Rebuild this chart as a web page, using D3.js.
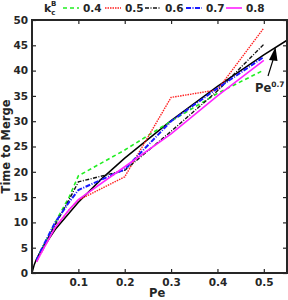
<!DOCTYPE html>
<html>
<head>
<meta charset="utf-8">
<script src="https://cdn.jsdelivr.net/npm/d3@7"></script>
<style>
  body { margin: 0; background: #fff; }
  text { font-family: "DejaVu Sans", sans-serif; font-weight: bold; fill: #262626; }
</style>
</head>
<body>
<div id="chart"></div>
<script>
// Data
const pe = [0.01, 0.02, 0.05, 0.08, 0.1, 0.2, 0.3, 0.4, 0.5]
const kcLabels = ['0.4', '0.5', '0.6', '0.7', '0.8']
const t04 = [2.5, 4.5, 10, 15, 19.2, 24.3, 30, 35.5, 40.1]
const t05 = [2.3, 4, 9, 12.5, 14.4, 19, 34.7, 36.2, 48.4]
const t06 = [2.5, 4.5, 9.5, 14.5, 18, 20.3, 28, 36, 45.2]
const t07 = [2.5, 4.6, 10, 14, 16.4, 20.5, 30, 36.5, 42.7]
const t08 = [2.2, 4, 9, 12.5, 14.5, 21, 27.5, 35, 42]
const fitPe = [0, 0.005, 0.01, 0.02, 0.05, 0.1, 0.15, 0.2, 0.3, 0.4, 0.5, 0.55]
const fitT = [0, 1.7, 2.8, 4.5, 8.6, 14, 18.6, 22.7, 30.1, 36.9, 43.1, 46]
const xTicks = [0.1, 0.2, 0.3, 0.4, 0.5]
const yTicks = [0, 5, 10, 15, 20, 25, 30, 35, 40, 45, 50]

const seriesList = [t04, t05, t06, t07, t08]
const styles = [
  { color: '#22ee22', dash: '4,3', width: 1.6 },
  { color: '#ff2020', dash: '1.5,1', width: 1.4 },
  { color: '#111111', dash: '4,1.5,1,1.5', width: 1.4 },
  { color: '#1a1aff', dash: '5,1.5,1,1.5', width: 2 },
  { color: '#ff22ff', dash: null, width: 1.6 }
]

const width = 288, height = 300
const margin = { top: 20, right: 1, bottom: 27, left: 32 }
const innerW = width - margin.left - margin.right
const innerH = height - margin.top - margin.bottom

const svg = d3.select('#chart')
  .append('svg')
    .attr('width', width)
    .attr('height', height)

const g = svg.append('g')
  .attr('transform', 'translate(' + margin.left + ',' + margin.top + ')')

const x = d3.scaleLinear().domain([0, 0.55]).range([0, innerW])
const y = d3.scaleLinear().domain([0, 50]).range([innerH, 0])

// Clip for lines
svg.append('defs').append('clipPath').attr('id', 'clip')
  .append('rect').attr('width', innerW).attr('height', innerH)

const line = d3.line()
  .x(d => x(d[0]))
  .y(d => y(d[1]))

const lines = g.append('g').attr('clip-path', 'url(#clip)')

// Fit line Pe^0.7
lines.append('path')
  .attr('d', line(fitPe.map((p, i) => [p, fitT[i]])))
  .attr('fill', 'none')
  .attr('stroke', '#000')
  .attr('stroke-width', 1.5)

seriesList.forEach((vals, i) => {
  lines.append('path')
    .attr('d', line(pe.map((p, j) => [p, vals[j]])))
    .attr('fill', 'none')
    .attr('stroke', styles[i].color)
    .attr('stroke-width', styles[i].width)
    .attr('stroke-dasharray', styles[i].dash)
})

// Axes
const xAxis = g.append('g')
  .attr('transform', 'translate(0,' + innerH + ')')
  .call(d3.axisBottom(x).tickValues(xTicks).tickSize(-4).tickPadding(6).tickFormat(d3.format('.1f')))
const xTop = g.append('g')
  .call(d3.axisTop(x).tickValues(xTicks).tickSize(-4).tickFormat(''))
const yAxis = g.append('g')
  .call(d3.axisLeft(y).tickValues(yTicks).tickSize(-4).tickPadding(4))
const yRight = g.append('g')
  .attr('transform', 'translate(' + innerW + ',0)')
  .call(d3.axisRight(y).tickValues(yTicks).tickSize(-4).tickFormat(''))

;[xAxis, xTop, yAxis, yRight].forEach(a => {
  a.select('.domain').remove()
  a.selectAll('line').attr('stroke', '#262626').attr('stroke-width', 1.2)
  a.selectAll('text').attr('font-size', 10.5).attr('fill', '#262626')
})

g.append('rect')
  .attr('width', innerW)
  .attr('height', innerH)
  .attr('fill', 'none')
  .attr('stroke', '#262626')
  .attr('stroke-width', 2)

// Axis labels
svg.append('text')
  .attr('x', margin.left + x(0.27))
  .attr('y', 297)
  .attr('text-anchor', 'middle')
  .attr('font-size', 11.5)
  .text('Pe')

svg.append('text')
  .attr('transform', 'translate(10,' + (margin.top + innerH / 2) + ') rotate(-90)')
  .attr('text-anchor', 'middle')
  .attr('font-size', 11.5)
  .text('Time to Merge')

// Annotation
const ann = svg.append('text')
  .attr('x', 255)
  .attr('y', 92)
  .attr('font-size', 11.5)
ann.append('tspan').text('Pe')
ann.append('tspan').attr('font-size', 7.5).attr('dy', -5).text('0.7')

svg.append('line')
  .attr('x1', 268).attr('y1', 76)
  .attr('x2', 273).attr('y2', 60)
  .attr('stroke', '#000').attr('stroke-width', 1.2)
svg.append('path')
  .attr('d', 'M275.5,47 L269,60 L277.5,61 Z')
  .attr('fill', '#000')

// Legend
const legend = svg.append('g').attr('transform', 'translate(0,8)')
const kc = legend.append('text').attr('x', 44).attr('y', 4).attr('font-size', 11)
kc.append('tspan').text('k')
kc.append('tspan').attr('font-size', 7).attr('dy', 3).text('c')
kc.append('tspan').attr('font-size', 7).attr('dx', -4.5).attr('dy', -9).text('B')

const legX = [63, 105, 145, 186, 226]
kcLabels.forEach((lab, i) => {
  legend.append('line')
    .attr('x1', legX[i]).attr('x2', legX[i] + 16)
    .attr('y1', 0).attr('y2', 0)
    .attr('stroke', styles[i].color)
    .attr('stroke-width', styles[i].width)
    .attr('stroke-dasharray', styles[i].dash)
  legend.append('text')
    .attr('x', legX[i] + 20)
    .attr('y', 4)
    .attr('font-size', 10.5)
    .text(lab)
})
</script>
</body>
</html>
